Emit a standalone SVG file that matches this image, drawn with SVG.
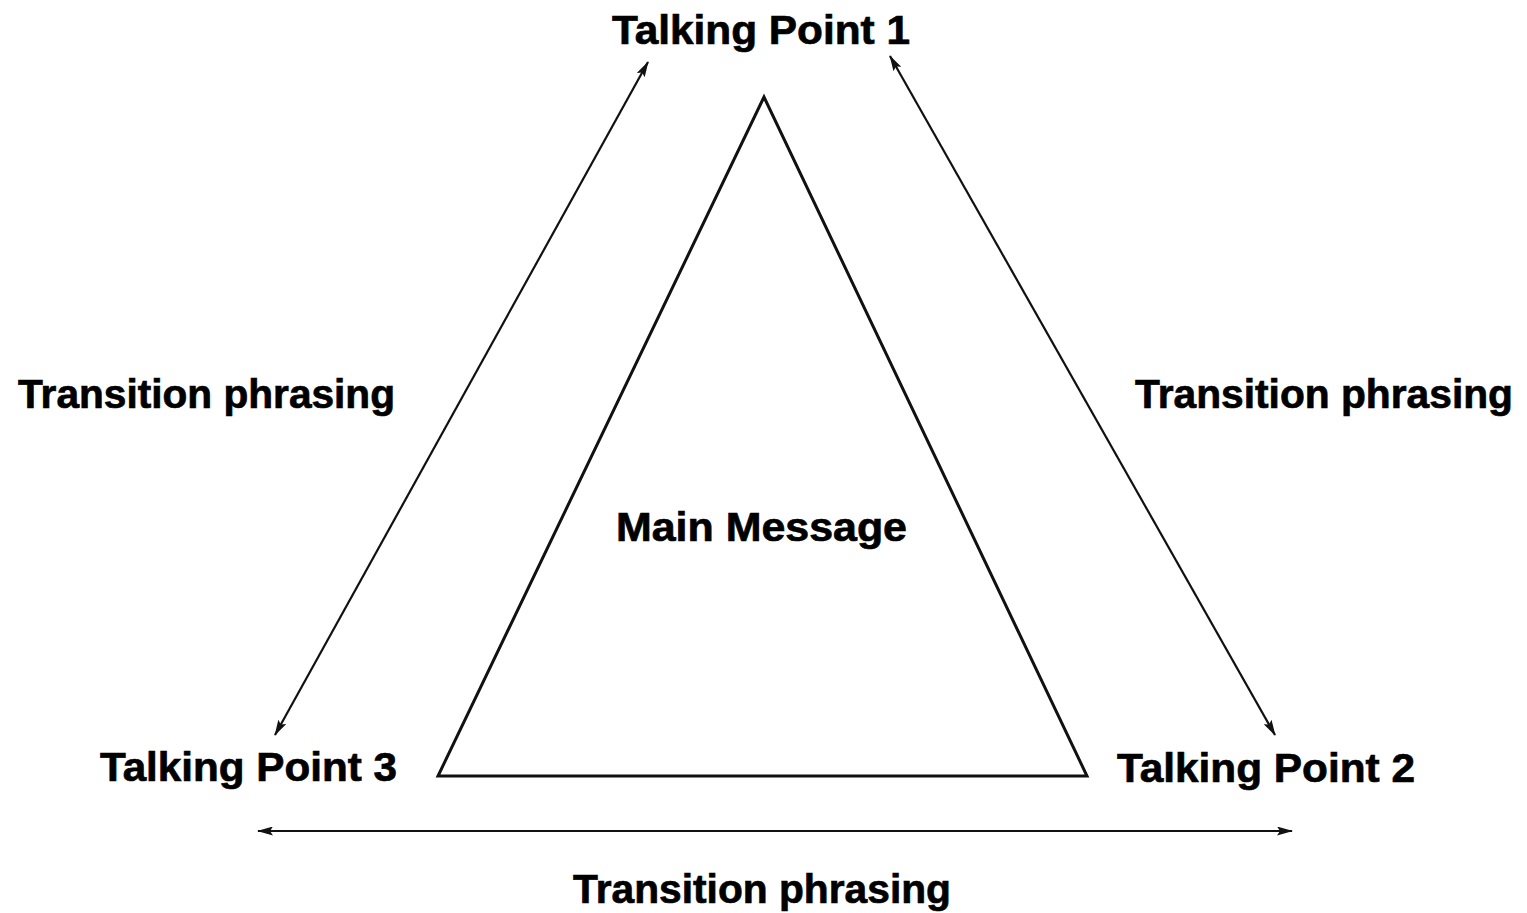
<svg xmlns="http://www.w3.org/2000/svg" width="1527" height="913" viewBox="0 0 1527 913">
<style>
.lbl{font-family:"Liberation Sans",Arial,sans-serif;font-weight:bold;font-size:41px;fill:#000;stroke:#000;stroke-width:0.7px;}
.conn{stroke:#111;stroke-width:2.2;fill:none;marker-start:url(#ah);marker-end:url(#ah);}
.tri{stroke:#111;stroke-width:3;fill:#fff;stroke-linejoin:miter;}
</style>
<defs>
<marker id="ah" viewBox="0 0 16 9" refX="15" refY="4.5" markerWidth="16" markerHeight="9" markerUnits="userSpaceOnUse" orient="auto-start-reverse">
<path d="M0,0 L16,4.5 L0,9 L3,4.5 Z" fill="#111"/>
</marker>
</defs>
<rect width="1527" height="913" fill="#fff"/>
<g id="main-message">
<polygon class="tri" points="764,97 438,776 1087,776"/>
<text class="lbl" x="616" y="541" textLength="291" lengthAdjust="spacingAndGlyphs">Main Message</text>
</g>
<g id="talking-point-1">
<text class="lbl" x="612" y="44" textLength="298" lengthAdjust="spacingAndGlyphs">Talking Point 1</text>
</g>
<g id="talking-point-2">
<text class="lbl" x="1117" y="782" textLength="298" lengthAdjust="spacingAndGlyphs">Talking Point 2</text>
</g>
<g id="talking-point-3">
<text class="lbl" x="100" y="781" textLength="297" lengthAdjust="spacingAndGlyphs">Talking Point 3</text>
</g>
<g id="connectors">
<line class="conn" x1="275" y1="735" x2="648" y2="62"/>
<line class="conn" x1="890" y1="56" x2="1275" y2="735"/>
<line class="conn" x1="258" y1="831" x2="1292" y2="831"/>
</g>
<g id="labels">
<text class="lbl" x="18" y="408" textLength="377" lengthAdjust="spacingAndGlyphs">Transition phrasing</text>
<text class="lbl" x="1135" y="408" textLength="378" lengthAdjust="spacingAndGlyphs">Transition phrasing</text>
<text class="lbl" x="573" y="903" textLength="378" lengthAdjust="spacingAndGlyphs">Transition phrasing</text>
</g>
</svg>
